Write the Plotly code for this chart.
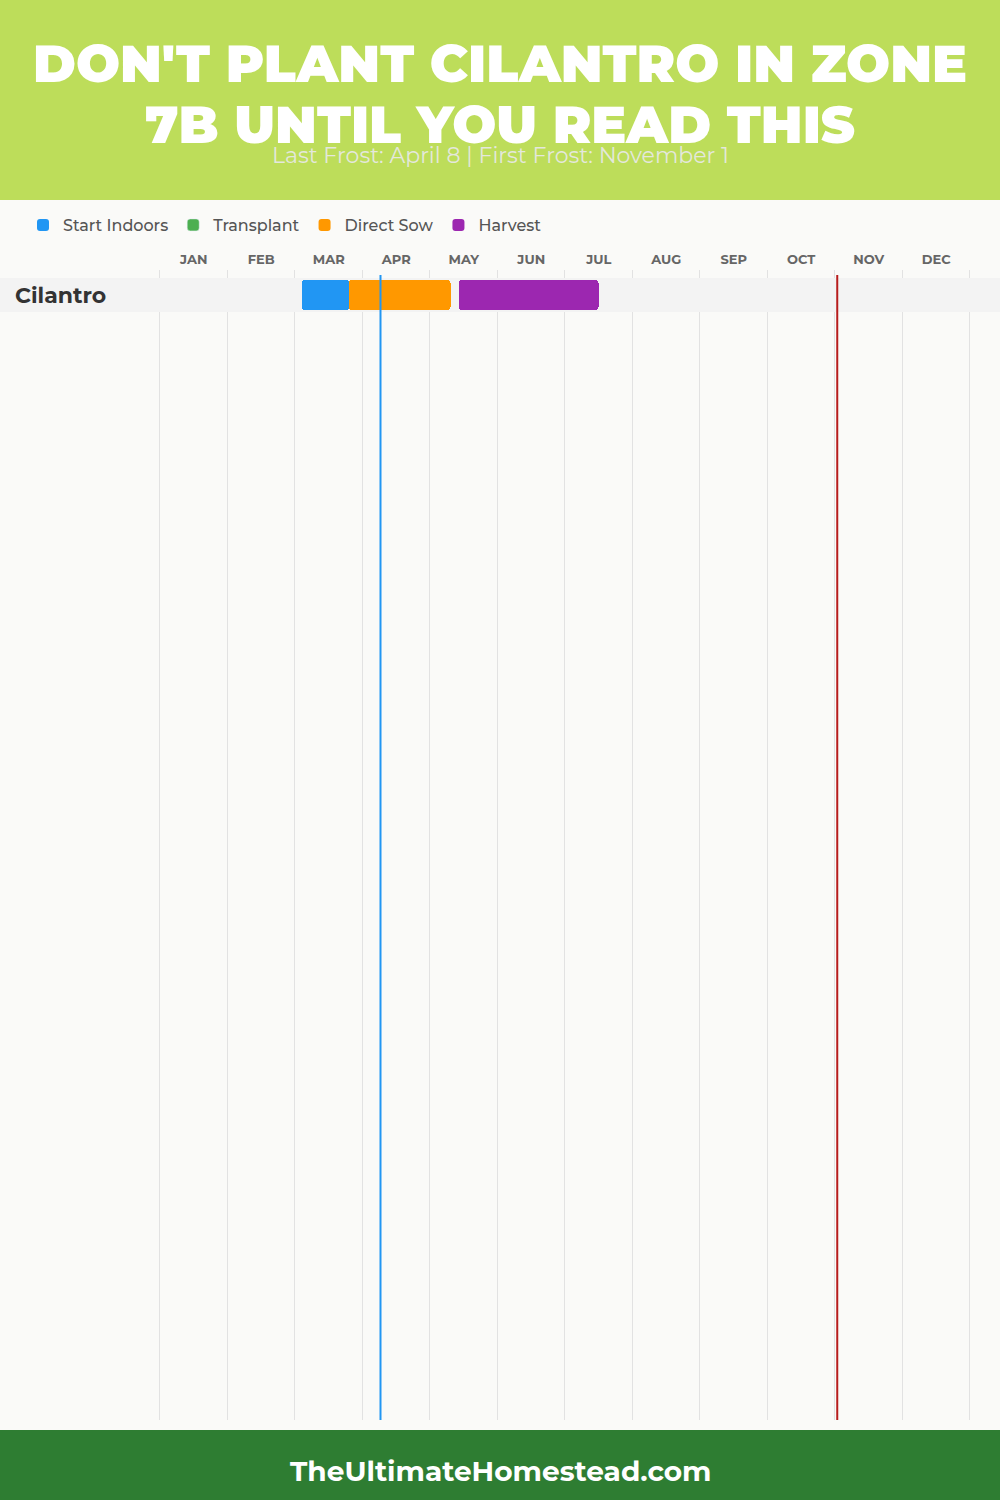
import plotly.graph_objects as go

# ---------------- data ----------------
months = ["JAN", "FEB", "MAR", "APR", "MAY", "JUN", "JUL", "AUG", "SEP", "OCT", "NOV", "DEC"]
crops = ["Cilantro"]
phases = ["Start Indoors", "Transplant", "Direct Sow", "Harvest"]
phase_colors = ["#2196F3", "#4CAF50", "#FF9800", "#9C27B0"]
# start / end positions in months (0 = Jan 1), one list per phase (None = not used)
phase_start = [2.10, None, 2.80, 4.42]
phase_end = [2.81, None, 4.31, 6.50]
last_frost = ("April 8", 3 + 8 / 30)
first_frost = ("November 1", 10 + 1 / 30)

title_lines = ["DON'T PLANT CILANTRO IN ZONE", "7B UNTIL YOU READ THIS"]
subtitle = f"Last Frost: {last_frost[0]} | First Frost: {first_frost[0]}"
footer = "TheUltimateHomestead.com"

W, H = 1000, 1500
HEAD_FONT = "Montserrat, 'Open Sans', 'DejaVu Sans', sans-serif"

fig = go.Figure()

for name, col, s, e in zip(phases, phase_colors, phase_start, phase_end):
    if s is None:
        fig.add_trace(go.Bar(y=[None], x=[None], orientation="h", name=name,
                             marker=dict(color=col), showlegend=True))
    else:
        fig.add_trace(go.Bar(y=[0], x=[e - s], base=[s], orientation="h", name=name,
                             marker=dict(color=col, line=dict(width=0)), width=0.88,
                             hovertemplate=name + ": %{base:.2f} – %{x:.2f}<extra></extra>"))

def py(px):  # pixel-from-top -> paper y
    return (H - px) / H

top_px, bot_px = 270, 1420
row_h = 34
row_center_offset = 25
y_top = -row_center_offset / row_h
y_bot = y_top + (bot_px - top_px) / row_h

# month grid: Jan 1 at x=160px, Dec 31 at x=970px; small pad so edge gridlines are drawn
left_px, right_px = 160, 970
pad = 0.05
mpx = (right_px - left_px) / 12
x_domain = [(left_px - pad * mpx) / W, (right_px + pad * mpx) / W]

shapes = [
    # header & footer bands
    dict(type="rect", xref="paper", yref="paper", x0=0, x1=1, y0=py(200), y1=1,
         fillcolor="#BDDD5A", line=dict(width=0), layer="below"),
    dict(type="rect", xref="paper", yref="paper", x0=0, x1=1, y0=0, y1=py(1430),
         fillcolor="#2E7D32", line=dict(width=0), layer="below"),
]
for i, c in enumerate(crops):
    shapes.append(dict(type="rect", xref="paper", yref="y", x0=0, x1=1, y0=i - 0.5, y1=i + 0.5,
                       fillcolor="#F3F3F3", line=dict(width=0), layer="below"))
    shapes.append(dict(type="rect", xref="x", yref="y", x0=-1, x1=13, y0=i - 0.5, y1=i + 0.5,
                       fillcolor="#F3F3F3", line=dict(width=0), layer="between"))
# frost lines
shapes.append(dict(type="line", xref="x", yref="paper", x0=last_frost[1], x1=last_frost[1],
                   y0=py(bot_px), y1=py(275), line=dict(color="#2196F3", width=2), layer="above"))
shapes.append(dict(type="line", xref="x", yref="paper", x0=first_frost[1], x1=first_frost[1],
                   y0=py(bot_px), y1=py(275), line=dict(color="#B71C1C", width=2), layer="above"))

annotations = [
    dict(text=title_lines[0], xref="paper", yref="paper", x=0.5, y=py(63), showarrow=False,
         xanchor="center", yanchor="middle",
         font=dict(family=HEAD_FONT, size=52, color="white", weight=900)),
    dict(text=title_lines[1], xref="paper", yref="paper", x=0.5, y=py(124), showarrow=False,
         xanchor="center", yanchor="middle",
         font=dict(family=HEAD_FONT, size=52, color="white", weight=900)),
    dict(text=subtitle, xref="paper", yref="paper", x=0.5, y=py(155), showarrow=False,
         xanchor="center", yanchor="middle",
         font=dict(family=HEAD_FONT, size=22, color="#E4E8DC")),
    dict(text=footer, xref="paper", yref="paper", x=0.5, y=py(1471), showarrow=False,
         xanchor="center", yanchor="middle",
         font=dict(family=HEAD_FONT, size=28, color="white", weight=700)),
]
for i, c in enumerate(crops):
    annotations.append(dict(text=c, xref="paper", yref="y", x=0.013, y=i, showarrow=False,
                            xanchor="left", yanchor="middle",
                            font=dict(family=HEAD_FONT, size=22, color="#333333", weight=700)))

fig.update_layout(
    width=W, height=H,
    margin=dict(l=0, r=0, t=0, b=0),
    paper_bgcolor="#FAFAF8", plot_bgcolor="rgba(0,0,0,0)",
    barmode="overlay", barcornerradius=4, bargap=0,
    shapes=shapes, annotations=annotations,
    showlegend=True,
    legend=dict(orientation="h", x=0.023, xanchor="left", y=py(225), yanchor="middle",
                font=dict(family=HEAD_FONT, size=16, color="#555555", weight=500),
                bgcolor="rgba(0,0,0,0)", itemclick=False, traceorder="normal"),
    xaxis=dict(domain=x_domain, range=[-pad, 12 + pad], side="top",
               tickvals=[i + 0.5 for i in range(12)], ticktext=months, ticks="",
               ticklabelstandoff=2,
               tickfont=dict(family=HEAD_FONT, size=13, color="#666666", weight=700),
               showgrid=False, zeroline=False, showline=False, fixedrange=True,
               minor=dict(tickvals=list(range(13)), showgrid=True, gridcolor="#E2E2E2", gridwidth=1)),
    yaxis=dict(domain=[py(bot_px), py(top_px)], range=[y_bot, y_top],
               showticklabels=False, showgrid=False, zeroline=False, fixedrange=True),
)

fig.write_html("out.html", config={"displayModeBar": False},
               post_script="document.body.style.margin='0';document.body.style.overflow='hidden';")
